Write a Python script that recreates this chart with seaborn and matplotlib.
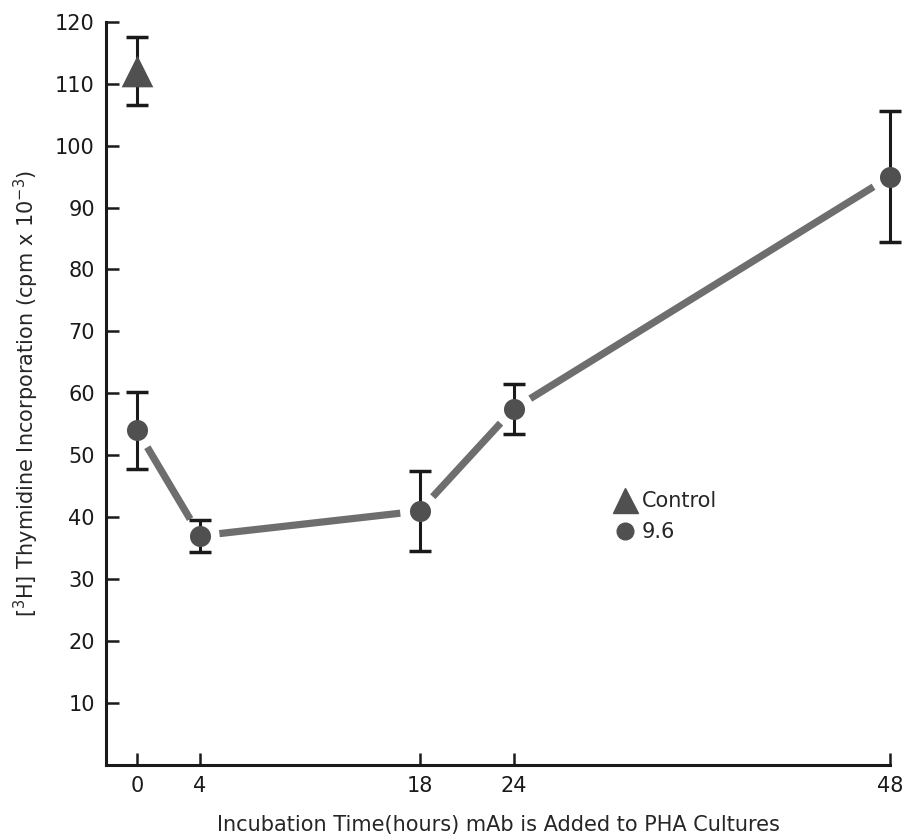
import matplotlib
matplotlib.use("Agg")
import matplotlib.pyplot as plt
import seaborn as sns
import pandas as pd

# ---- data ----
hours = [0, 4, 18, 24, 48]
mab_values = [54, 37, 41, 57.5, 95]
mab_errors = [6.2, 2.6, 6.5, 4.0, 10.6]
control_hours = [0]
control_values = [112]
control_errors = [5.5]
xtick_values = [0, 4, 18, 24, 48]
xtick_labels = ["0", "4", "18", "24", "48"]
ytick_values = [10, 20, 30, 40, 50, 60, 70, 80, 90, 100, 110, 120]
ytick_labels = ["10", "20", "30", "40", "50", "60", "70", "80", "90", "100", "110", "120"]

sns.set_style("ticks")
plt.rcParams["font.family"] = ["DejaVu Sans"]

fig = plt.figure(figsize=(9.16, 8.36), dpi=100)
ax = fig.add_axes([0.1157, 0.085, 0.856, 0.889])

df = pd.DataFrame({"hours": hours, "value": mab_values, "series": "9.6"})
dfc = pd.DataFrame({"hours": control_hours, "value": control_values, "series": "Control"})

line_color = "#6e6e6e"
mark_color = "#505050"

# connecting segments with gaps around markers
for i in range(len(hours) - 1):
    ax.annotate("", xy=(hours[i + 1], mab_values[i + 1]), xytext=(hours[i], mab_values[i]),
                arrowprops=dict(arrowstyle="-", lw=5.2, color=line_color,
                                shrinkA=14, shrinkB=14, capstyle="butt"),
                zorder=2, annotation_clip=False)

# error bars
for xs, ys, es in [(hours, mab_values, mab_errors),
                   (control_hours, control_values, control_errors)]:
    eb = ax.errorbar(xs, ys, yerr=es, fmt="none", ecolor="#1a1a1a",
                     elinewidth=2.2, capsize=8, capthick=2.5, zorder=3)
    for art in eb.lines[1] + eb.lines[2]:
        art.set_clip_on(False)
    for art in eb.lines[2]:
        art.set_clip_on(False)

# markers
sns.scatterplot(data=df, x="hours", y="value", marker="o", s=230, color=mark_color,
                edgecolor=mark_color, linewidth=0, ax=ax, zorder=4, legend=False, clip_on=False)
sns.scatterplot(data=dfc, x="hours", y="value", marker="^", s=520, color=mark_color,
                edgecolor=mark_color, linewidth=0, ax=ax, zorder=4, legend=False, clip_on=False)

# legend
from matplotlib.lines import Line2D
handles = [
    Line2D([], [], marker="^", linestyle="none", markersize=18, color=mark_color),
    Line2D([], [], marker="o", linestyle="none", markersize=12, color=mark_color),
]
ax.legend(handles, ["Control", "9.6"], loc="upper left", bbox_to_anchor=(0.635, 0.38),
          frameon=False, fontsize=15, handletextpad=0.2, labelspacing=0.55,
          handlelength=1.2, borderaxespad=0)

ax.set_xlim(-2, 48)
ax.set_ylim(0, 120)
ax.set_xticks(xtick_values)
ax.set_xticklabels(xtick_labels, fontsize=15)
ax.set_yticks(ytick_values)
ax.set_yticklabels(ytick_labels, fontsize=15)
ax.tick_params(axis="both", direction="in", length=9, width=1.8, colors="#1a1a1a", pad=8)

for side in ["top", "right"]:
    ax.spines[side].set_visible(False)
for side in ["left", "bottom"]:
    ax.spines[side].set_linewidth(2.2)
    ax.spines[side].set_color("#1a1a1a")

ax.set_xlabel("Incubation Time(hours) mAb is Added to PHA Cultures", fontsize=15, labelpad=14)
ax.set_ylabel(r"[$^{3}$H] Thymidine Incorporation (cpm x 10$^{-3}$)", fontsize=15, labelpad=10)

fig.savefig("out.png", dpi=100)
